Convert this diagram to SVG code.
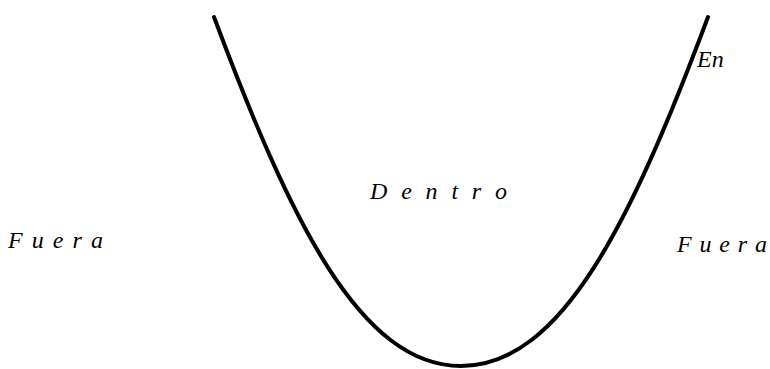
<svg xmlns="http://www.w3.org/2000/svg" width="770" height="369" viewBox="0 0 770 369">
<style>
.lbl{font-family:"Liberation Serif","Times New Roman",serif;font-style:italic;font-size:24px;fill:#000}
.curve{fill:none;stroke:#000;stroke-width:4;stroke-linecap:round}
</style>
<rect width="770" height="369" fill="#fff"/>
<g id="connectors">
<path id="curve" class="curve" d="M214,17 C290,220 360,366 461,366 C562,366 632,220 708,17"/>
</g>
<g id="fuera-left"><text class="lbl" x="8" y="248" textLength="95" lengthAdjust="spacing">F u e r a</text></g>
<g id="dentro"><text class="lbl" x="370" y="199" textLength="137" lengthAdjust="spacing">D e n t r o</text></g>
<g id="fuera-right"><text class="lbl" x="677" y="252" textLength="90" lengthAdjust="spacing">F u e r a</text></g>
<g id="en"><text class="lbl" x="697" y="67">En</text></g>
</svg>
